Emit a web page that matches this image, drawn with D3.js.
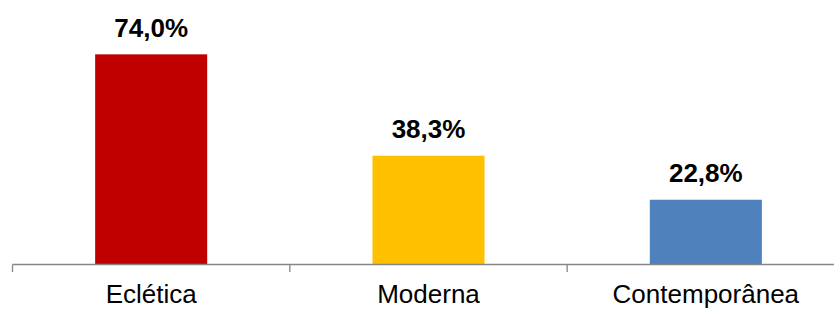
<!DOCTYPE html>
<html lang="pt">
<head>
  <meta charset="UTF-8">
  <title>Bar chart</title>
  <script src="https://d3js.org/d3.v7.min.js"></script>
  <style>
    body, html { margin: 0; padding: 0; background: #fff; }
    svg { display: block; }
    .value-label { font-family: "Liberation Sans", Arial, sans-serif; font-weight: bold; font-size: 26px; fill: #000; }
    .cat-label { font-family: "Liberation Sans", Arial, sans-serif; font-size: 26px; fill: #000; }
  </style>
</head>
<body>
  <svg id="chart" width="834" height="309"></svg>
  <script>
    const categories = ["Eclética", "Moderna", "Contemporânea"];
    const values = [74.0, 38.3, 22.8];
    const colors = ["#C00000", "#FFC000", "#4F81BD"];

    const width = 834, height = 309;
    const baseline = 264.5;
    const svg = d3.select("#chart");

    const x = d3.scaleBand()
      .domain(categories)
      .range([12.5, 844.5])
      .paddingInner(0.596)
      .paddingOuter(0.298);

    // 74% -> 210px tall
    const y = d3.scaleLinear()
      .domain([0, 80])
      .range([baseline, baseline - 80 * 2.84]);

    const fmt = v => v.toFixed(1).replace(".", ",") + "%";

    svg.selectAll(".bar")
      .data(values)
      .enter().append("rect")
      .attr("class", "bar")
      .attr("x", (d, i) => x(categories[i]))
      .attr("y", d => y(d))
      .attr("width", x.bandwidth())
      .attr("height", d => baseline - y(d))
      .attr("fill", (d, i) => colors[i]);

    // category axis with tick marks at band boundaries
    const step = x.step();
    const r = x.range();
    svg.append("line")
      .attr("x1", r[0]).attr("x2", r[1])
      .attr("y1", baseline).attr("y2", baseline)
      .attr("stroke", "#868686").attr("stroke-width", 1.3);
    const tickPos = d3.range(categories.length + 1).map(i => r[0] + i * step);
    svg.selectAll(".tick")
      .data(tickPos)
      .enter().append("line")
      .attr("x1", d => d).attr("x2", d => d)
      .attr("y1", baseline).attr("y2", baseline + 7.5)
      .attr("stroke", "#868686").attr("stroke-width", 1.3);

    svg.selectAll(".value-label")
      .data(values)
      .enter().append("text")
      .attr("class", "value-label")
      .attr("text-anchor", "middle")
      .attr("x", (d, i) => x(categories[i]) + x.bandwidth() / 2)
      .attr("y", d => y(d) - 17.3)
      .text(fmt);

    svg.selectAll(".cat-label")
      .data(categories)
      .enter().append("text")
      .attr("class", "cat-label")
      .attr("text-anchor", "middle")
      .attr("x", d => x(d) + x.bandwidth() / 2)
      .attr("y", 303.3)
      .text(d => d);
  </script>
</body>
</html>
